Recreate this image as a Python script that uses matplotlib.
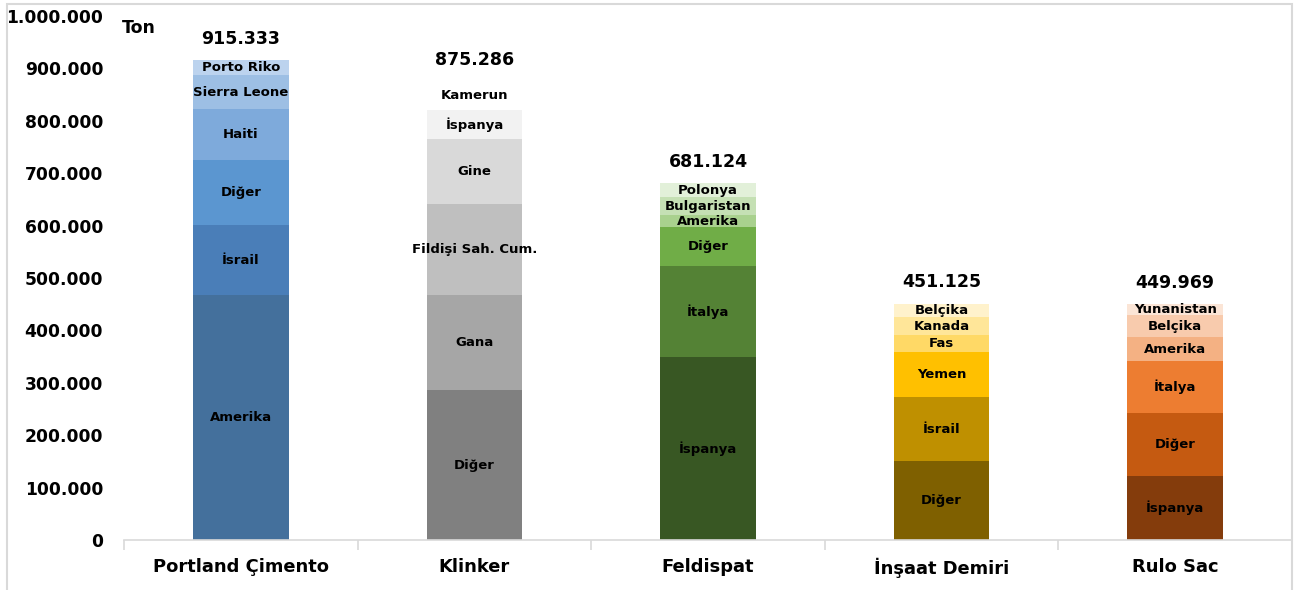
import numpy as np
import matplotlib
matplotlib.use("Agg")
import matplotlib.pyplot as plt
from matplotlib.patches import Rectangle

# --- data (ton) ---
products = ["Portland Çimento", "Klinker", "Feldispat", "İnşaat Demiri", "Rulo Sac"]
totals = ["915.333", "875.286", "681.124", "451.125", "449.969"]

# stacked segments, bottom -> top
portland_labels = ["Amerika", "İsrail", "Diğer", "Haiti", "Sierra Leone", "Porto Riko"]
portland_values = [467500, 133600, 124000, 97300, 65000, 27933]
portland_colors = ["#44709c", "#4a7eb8", "#5b96d0", "#7eaadb", "#9dbfe4", "#bcd3ee"]

klinker_labels = ["Diğer", "Gana", "Fildişi Sah. Cum.", "Gine", "İspanya", "Kamerun"]
klinker_values = [286000, 181000, 173700, 124000, 55300, 55286]
klinker_colors = ["#808080", "#a6a6a6", "#bfbfbf", "#d9d9d9", "#f2f2f2", "#ffffff"]

feldispat_labels = ["İspanya", "İtalya", "Diğer", "Amerika", "Bulgaristan", "Polonya"]
feldispat_values = [349000, 173700, 74400, 23000, 34000, 27024]
feldispat_colors = ["#385723", "#548235", "#70ad47", "#a9d18e", "#c5e0b4", "#e2f0d9"]

demir_labels = ["Diğer", "İsrail", "Yemen", "Fas", "Kanada", "Belçika"]
demir_values = [150800, 122000, 86000, 32400, 34300, 25625]
demir_colors = ["#7f6000", "#bf9000", "#ffc000", "#ffd966", "#ffe699", "#fff2cc"]

rulo_labels = ["İspanya", "Diğer", "İtalya", "Amerika", "Belçika", "Yunanistan"]
rulo_values = [122000, 120000, 99200, 45800, 42000, 20969]
rulo_colors = ["#843c0c", "#c55a11", "#ed7d31", "#f4b183", "#f8cbad", "#fbe5d6"]

stacks = [
    (portland_labels, portland_values, portland_colors),
    (klinker_labels, klinker_values, klinker_colors),
    (feldispat_labels, feldispat_values, feldispat_colors),
    (demir_labels, demir_values, demir_colors),
    (rulo_labels, rulo_values, rulo_colors),
]

yticks = np.arange(0, 1000001, 100000)

plt.rcParams["font.family"] = ["DejaVu Sans"]
plt.rcParams["font.weight"] = "bold"

fig = plt.figure(figsize=(13.04, 5.90), dpi=100)
ax = fig.add_axes([124 / 1304, 1 - 540 / 590, (1292 - 124) / 1304, (540 - 16) / 590])

x = np.arange(len(products))
width = 0.41
for i, (labels, values, colors) in enumerate(stacks):
    bottom = 0
    for lab, val, col in zip(labels, values, colors):
        ax.bar(x[i], val, width, bottom=bottom, color=col, edgecolor="none")
        ax.text(x[i], bottom + val / 2, lab, ha="center", va="center",
                fontsize=9.5, fontweight="bold", color="black")
        bottom += val
    ax.annotate(totals[i], (x[i], bottom), xytext=(0, 9), textcoords="offset points",
                ha="center", va="bottom", fontsize=12.5, fontweight="bold")

ax.set_xlim(-0.5, len(products) - 0.5)
ax.set_ylim(0, 1000000)
ax.set_yticks(yticks)
ax.set_yticklabels([f"{v:,}".replace(",", ".") for v in yticks], fontsize=12.3, fontweight="bold")
ax.tick_params(axis="y", length=0, pad=15)

ax.set_xticks(x)
ax.set_xticklabels(products, fontsize=12.9, fontweight="bold")
ax.tick_params(axis="x", which="major", length=0, pad=13)
ax.set_xticks(np.arange(-0.5, len(products)), minor=True)
ax.tick_params(axis="x", which="minor", length=7, color="#d9d9d9", width=1.2)

for side in ["top", "right", "left"]:
    ax.spines[side].set_visible(False)
ax.spines["bottom"].set_color("#d9d9d9")
ax.spines["bottom"].set_linewidth(1.2)

ax.text(122 / 1304, 1 - 28 / 590, "Ton", transform=fig.transFigure, fontsize=12.5,
        fontweight="bold", va="center", ha="left")

# outer chart border
fig.patches.append(Rectangle((7 / 1304, -0.05), (1292 - 7) / 1304, 1.05 - 4 / 590,
                             transform=fig.transFigure, fill=False,
                             edgecolor="#d9d9d9", linewidth=1.5))

fig.savefig("out.png", dpi=100)
